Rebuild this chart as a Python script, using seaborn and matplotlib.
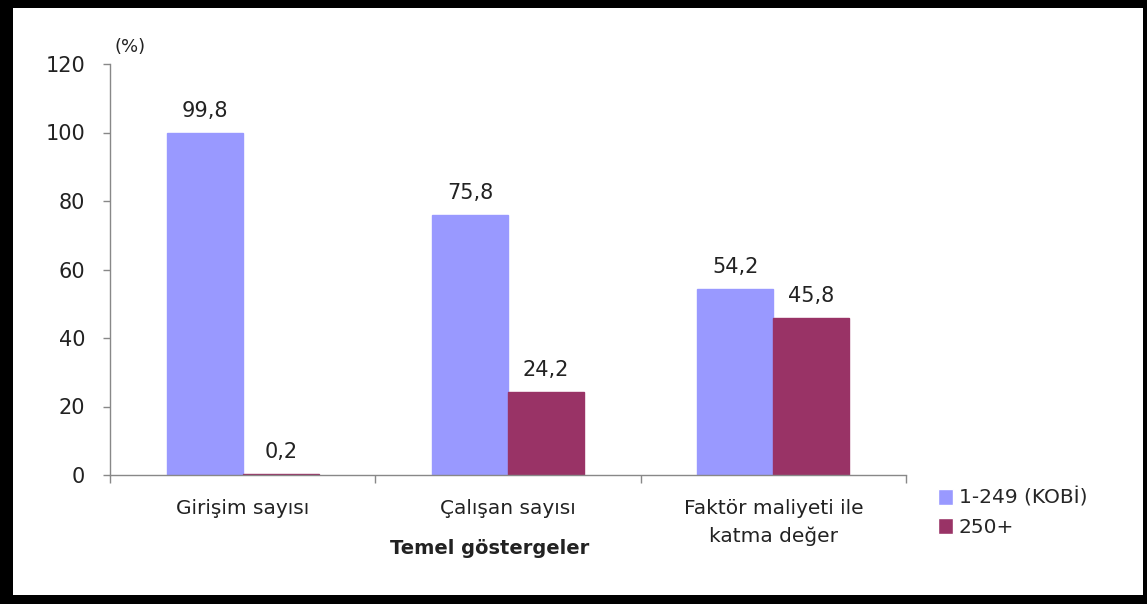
import matplotlib
matplotlib.use("Agg")
import matplotlib.pyplot as plt
import pandas as pd
import seaborn as sns
from matplotlib.patches import Rectangle

categories = ["Girişim sayısı", "Çalışan sayısı", "Faktör maliyeti ile\nkatma değer"]
groups = ["1-249 (KOBİ)", "250+"]
kobi = [99.8, 75.8, 54.2]
large = [0.2, 24.2, 45.8]
colors = ["#9999FF", "#993366"]

df = pd.DataFrame({
    "cat": categories * 2,
    "grp": [groups[0]] * 3 + [groups[1]] * 3,
    "val": kobi + large,
})

sns.set_theme(style="white")
plt.rcParams["font.family"] = ["DejaVu Sans"]

W, H = 1147, 604
fig = plt.figure(figsize=(W / 100, H / 100), dpi=100)
ax = fig.add_axes([110 / W, 1 - 475 / H, 796 / W, 411 / H])

sns.barplot(data=df, x="cat", y="val", hue="grp", palette=colors,
            width=0.574, saturation=1, ax=ax, legend=True)

for cont, c in zip(ax.containers, colors):
    for bar in cont:
        bar.set_edgecolor(c)
        bar.set_linewidth(1)
    ax.bar_label(cont, labels=[f"{v:.1f}".replace(".", ",") for v in cont.datavalues],
                 padding=9, fontsize=15, color="#222222")

ax.set_xlim(-0.5, 2.5)
ax.set_ylim(0, 120)
ax.set_yticks(range(0, 121, 20))
ax.tick_params(axis="y", labelsize=15, length=5, width=1, color="#888888",
               left=True, pad=13, labelcolor="#222222")
ax.tick_params(axis="x", which="major", length=0, labelsize=14.5, pad=17,
               labelcolor="#222222")
for lbl in ax.get_xticklabels():
    lbl.set_linespacing(1.55)
ax.set_xticks([-0.5, 0.5, 1.5, 2.5], minor=True)
ax.tick_params(axis="x", which="minor", length=6, width=1, color="#888888", bottom=True)
ax.set_xlabel("Temel göstergeler", fontsize=14, fontweight="bold", color="#222222")
ax.xaxis.set_label_coords(0.477, -0.178)
ax.xaxis.label.set_va("center")
ax.set_ylabel("")

for s in ["top", "right"]:
    ax.spines[s].set_visible(False)
for s in ["left", "bottom"]:
    ax.spines[s].set_color("#888888")
    ax.spines[s].set_linewidth(1)

fig.text(130 / W, 1 - 47 / H, "(%)", fontsize=13, color="#222222", ha="center", va="center")

leg = ax.legend(loc="center left", bbox_to_anchor=(1.040, -0.091), frameon=False,
                fontsize=14.5, handlelength=0.75, handleheight=0.85,
                handletextpad=0.3, labelspacing=0.5, borderpad=0, borderaxespad=0)

# black frame around the image
for x, y, w, h in [(0, 0, 13, H), (0, 0, W, 9), (0, H - 8, W, 8), (W - 4, 0, 4, H)]:
    fig.patches.append(Rectangle((x / W, y / H), w / W, h / H, transform=fig.transFigure,
                                 facecolor="black", edgecolor="none"))

fig.savefig("out.png", dpi=100)
